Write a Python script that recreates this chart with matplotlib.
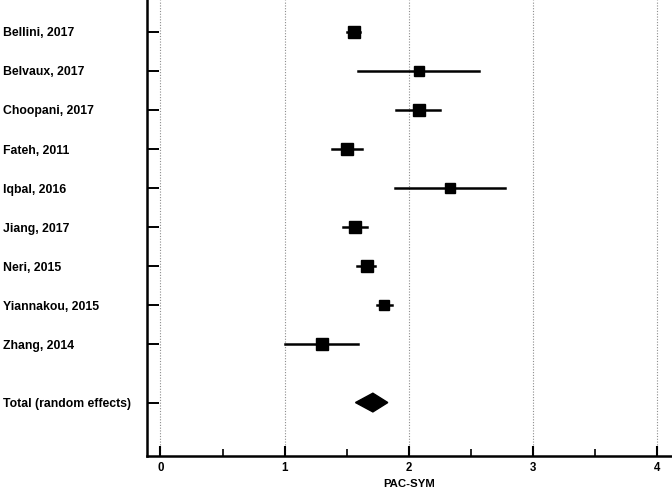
import matplotlib.pyplot as plt

studies = ['Bellini, 2017', 'Belvaux, 2017', 'Choopani, 2017', 'Fateh, 2011',
           'Iqbal, 2016', 'Jiang, 2017', 'Neri, 2015', 'Yiannakou, 2015',
           'Zhang, 2014']
estimate = [1.56, 2.08, 2.08, 1.50, 2.33, 1.57, 1.66, 1.80, 1.30]
ci_low = [1.50, 1.59, 1.90, 1.38, 1.89, 1.47, 1.58, 1.74, 1.00]
ci_high = [1.61, 2.56, 2.25, 1.62, 2.77, 1.66, 1.73, 1.86, 1.59]
marker_size = [8.2, 7.0, 8.2, 8.2, 7.0, 8.2, 8.2, 7.6, 8.2]

total_label = 'Total (random effects)'
total_est = 1.71
total_low = 1.57
total_high = 1.83

plt.rcParams['font.family'] = ['Liberation Sans', 'DejaVu Sans']
plt.rcParams['font.weight'] = 'bold'

fig = plt.figure(figsize=(6.72, 4.91), dpi=100)
ax = fig.add_axes([0.2183, 0.0713, 0.7817, 0.9287])

rows = list(range(len(studies)))
total_row = len(studies) + 0.5

# dotted vertical reference lines
for x in [0, 1, 2, 3, 4]:
    ax.axvline(x, color='#8c8c8c', linestyle=(0, (1, 1.5)), linewidth=0.8, zorder=0)

for i, r in enumerate(rows):
    ax.plot([ci_low[i], ci_high[i]], [r, r], color='black', linewidth=1.8, zorder=2)
    ax.plot(estimate[i], r, marker='s', color='black', markersize=marker_size[i], zorder=3)

# pooled estimate diamond
h = 0.24
ax.fill([total_low, total_est, total_high, total_est],
        [total_row, total_row - h, total_row, total_row + h],
        color='black', zorder=3)

ax.set_xlim(-0.11, 4.117)
ax.set_ylim(10.87, -0.82)

ax.set_yticks(rows + [total_row])
ax.set_yticklabels(studies + [total_label], ha='left', fontsize=8.8, fontweight='bold')
ax.tick_params(axis='y', direction='in', length=8.7, width=1.4, pad=103.5)

ax.set_xticks([0, 1, 2, 3, 4])
ax.set_xticks([0.5, 1.5, 2.5, 3.5], minor=True)
ax.tick_params(axis='x', which='major', direction='in', length=7.2, width=1.5,
               labelsize=8.3, pad=4)
ax.tick_params(axis='x', which='minor', direction='in', length=4.8, width=1.2)
for lab in ax.get_xticklabels():
    lab.set_fontweight('bold')

ax.set_xlabel('PAC-SYM', fontsize=8.2, fontweight='bold', labelpad=4)

ax.spines['top'].set_visible(False)
ax.spines['right'].set_visible(False)
ax.spines['left'].set_linewidth(1.8)
ax.spines['bottom'].set_linewidth(1.8)

fig.savefig('out.png', dpi=100)
